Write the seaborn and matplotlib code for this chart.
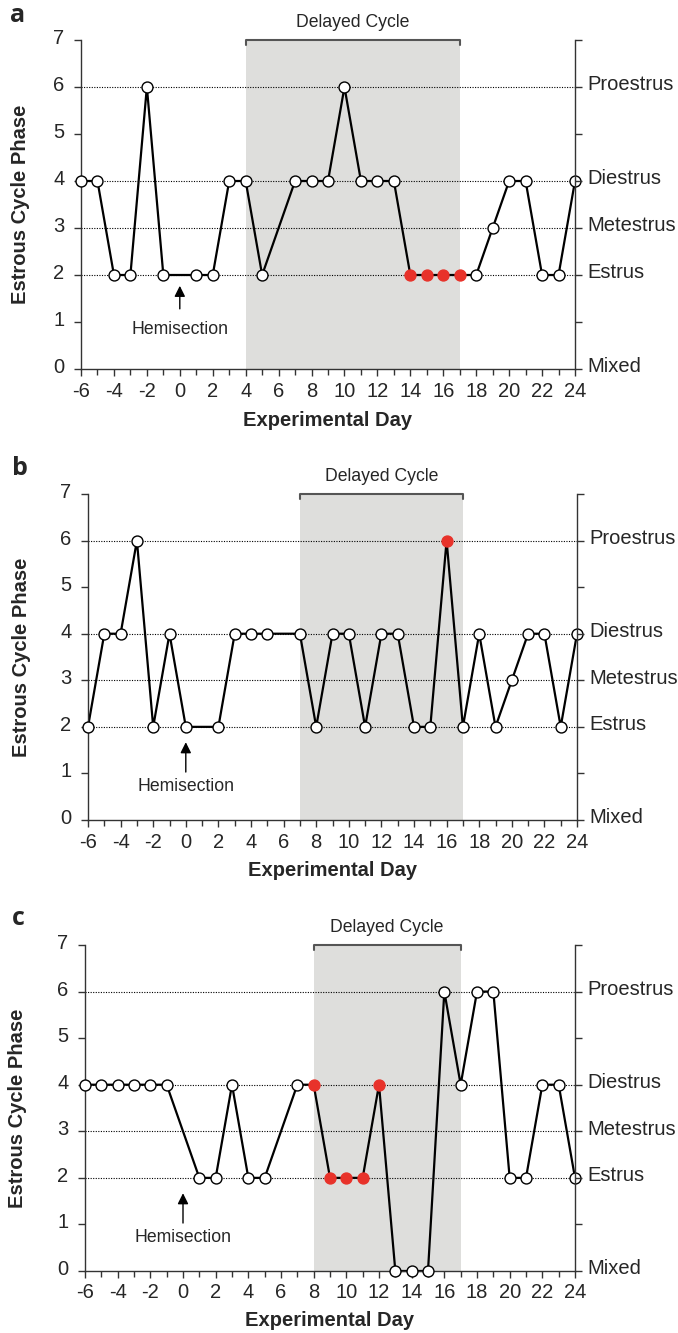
import matplotlib
matplotlib.use('Agg')
import matplotlib.pyplot as plt
import matplotlib.transforms as mtransforms
import seaborn as sns
import pandas as pd
from matplotlib.ticker import MultipleLocator

sns.set_style('ticks')
plt.rcParams['font.family'] = ['Liberation Sans', 'DejaVu Sans']
plt.rcParams['axes.unicode_minus'] = False

# ---------------- data ----------------
days_a = [-6, -5, -4, -3, -2, -1, 1, 2, 3, 4, 5, 7, 8, 9, 10, 11, 12, 13, 14, 15, 16, 17, 18, 19, 20, 21, 22, 23, 24]
phase_a = [4, 4, 2, 2, 6, 2, 2, 2, 4, 4, 2, 4, 4, 4, 6, 4, 4, 4, 2, 2, 2, 2, 2, 3, 4, 4, 2, 2, 4]
red_days_a = [14, 15, 16, 17]
delayed_a = (4, 17)

days_b = [-6, -5, -4, -3, -2, -1, 0, 2, 3, 4, 5, 7, 8, 9, 10, 11, 12, 13, 14, 15, 16, 17, 18, 19, 20, 21, 22, 23, 24]
phase_b = [2, 4, 4, 6, 2, 4, 2, 2, 4, 4, 4, 4, 2, 4, 4, 2, 4, 4, 2, 2, 6, 2, 4, 2, 3, 4, 4, 2, 4]
red_days_b = [16]
delayed_b = (7, 17)

days_c = [-6, -5, -4, -3, -2, -1, 1, 2, 3, 4, 5, 7, 8, 9, 10, 11, 12, 13, 14, 15, 16, 17, 18, 19, 20, 21, 22, 23, 24]
phase_c = [4, 4, 4, 4, 4, 4, 2, 2, 4, 2, 2, 4, 4, 2, 2, 2, 4, 0, 0, 0, 6, 4, 6, 6, 2, 2, 4, 4, 2]
red_days_c = [8, 9, 10, 11, 12]
delayed_c = (8, 17)

panel_letters = ['a', 'b', 'c']
x_ticks = list(range(-6, 25, 2))
y_ticks = list(range(0, 8))
phase_levels = [0, 2, 3, 4, 6]
phase_names = ['Mixed', 'Estrus', 'Metestrus', 'Diestrus', 'Proestrus']
grid_levels = [2, 3, 4, 6]
hemisection_day = 0

# ---------------- layout (pixels) ----------------
W, H = 678, 1333
layout = [
    dict(box=(81, 40, 575, 369), letter_xy=(10, 22), ylab_x=21, xlab_y=421, arrow=(1.28, 1.77), htext=0.83),
    dict(box=(88, 494, 577, 820), letter_xy=(12, 475), ylab_x=22, xlab_y=870, arrow=(1.03, 1.67), htext=0.71),
    dict(box=(85, 945, 575, 1271), letter_xy=(12, 925), ylab_x=18, xlab_y=1321, arrow=(1.03, 1.67), htext=0.71),
]

datasets = [
    (days_a, phase_a, red_days_a, delayed_a),
    (days_b, phase_b, red_days_b, delayed_b),
    (days_c, phase_c, red_days_c, delayed_c),
]

RED = '#E8322A'
SHADE = '#DEDEDC'

fig = plt.figure(figsize=(W / 100, H / 100), dpi=100)

for letter, (days, phase, red_days, delayed), lay in zip(panel_letters, datasets, layout):
    l, t, r, b = lay['box']
    ax = fig.add_axes([l / W, 1 - b / H, (r - l) / W, (b - t) / H])
    df = pd.DataFrame({'day': days, 'phase': phase})
    df['red'] = df['day'].isin(red_days)

    ax.axvspan(delayed[0], delayed[1], color=SHADE, lw=0, zorder=0)
    for g in grid_levels:
        ax.axhline(g, color='black', ls=(0, (1, 1.3)), lw=0.8, zorder=1)

    sns.lineplot(data=df, x='day', y='phase', color='black', lw=1.6, ax=ax,
                 estimator=None, sort=False, zorder=2, clip_on=False)
    sns.scatterplot(data=df[~df['red']], x='day', y='phase', color='white',
                    edgecolor='black', linewidth=1.0, s=62, ax=ax, zorder=3, clip_on=False)
    sns.scatterplot(data=df[df['red']], x='day', y='phase', color=RED,
                    edgecolor=RED, linewidth=1.0, s=62, ax=ax, zorder=3, clip_on=False)

    ax.set_xlim(-6, 24)
    ax.set_ylim(0, 7)
    ax.set_xticks(x_ticks)
    ax.xaxis.set_minor_locator(MultipleLocator(1))
    ax.set_yticks(y_ticks)
    ax.set_xlabel('')
    ax.set_ylabel('')
    ax.tick_params(which='major', direction='out', length=5, width=1, labelsize=14.5, color='#333333', pad=4)
    ax.tick_params(axis='y', pad=7)
    ax.tick_params(which='minor', direction='out', length=4, width=1, color='#333333')
    for s in ['left', 'bottom']:
        ax.spines[s].set_color('#333333')
        ax.spines[s].set_linewidth(1)
    ax.spines['top'].set_visible(False)
    ax.spines['right'].set_visible(False)
    up = mtransforms.ScaledTranslation(0, 2.5 / 72, fig.dpi_scale_trans)
    for lab in ax.get_yticklabels():
        lab.set_transform(lab.get_transform() + up)

    ax2 = ax.twinx()
    ax2.set_ylim(0, 7)
    ax2.set_yticks(y_ticks)
    ax2.set_yticklabels([phase_names[phase_levels.index(v)] if v in phase_levels else '' for v in y_ticks])
    ax2.tick_params(direction='out', length=5, width=1, labelsize=14.5, color='#333333', pad=4)
    for s in ['top', 'left', 'bottom']:
        ax2.spines[s].set_visible(False)
    ax2.spines['right'].set_color('#333333')
    ax2.spines['right'].set_linewidth(1)
    up2 = mtransforms.ScaledTranslation(0, 3.0 / 72, fig.dpi_scale_trans)
    for lab in ax2.get_yticklabels():
        lab.set_transform(lab.get_transform() + up2)

    # Delayed cycle bracket
    ax.plot([delayed[0], delayed[0], delayed[1], delayed[1]], [6.9, 7, 7, 6.9],
            color='#555555', lw=1.5, clip_on=False, zorder=4)
    ax.text((delayed[0] + delayed[1]) / 2, 7.38, 'Delayed Cycle', ha='center', va='center',
            fontsize=12.7, clip_on=False)

    # Hemisection arrow
    ax.annotate('', xy=(hemisection_day, lay['arrow'][1]), xytext=(hemisection_day, lay['arrow'][0]),
                arrowprops=dict(arrowstyle='-|>', color='black', lw=1, mutation_scale=16,
                                shrinkA=0, shrinkB=0))
    ax.text(hemisection_day, lay['htext'], 'Hemisection', ha='center', va='center', fontsize=12.7)

    # labels
    fig.text(lay['ylab_x'] / W, 1 - ((t + b) / 2) / H, 'Estrous Cycle Phase', rotation=90,
             ha='center', va='center', fontsize=14.5, fontweight='bold')
    fig.text(((l + r) / 2) / W, 1 - lay['xlab_y'] / H, 'Experimental Day', ha='center', va='center',
             fontsize=14.5, fontweight='bold')
    fig.text(lay['letter_xy'][0] / W, 1 - lay['letter_xy'][1] / H, letter, ha='left', va='baseline',
             fontsize=18, fontweight='bold', family=['Open Sans', 'DejaVu Sans'])

fig.savefig('out.png', dpi=100)
